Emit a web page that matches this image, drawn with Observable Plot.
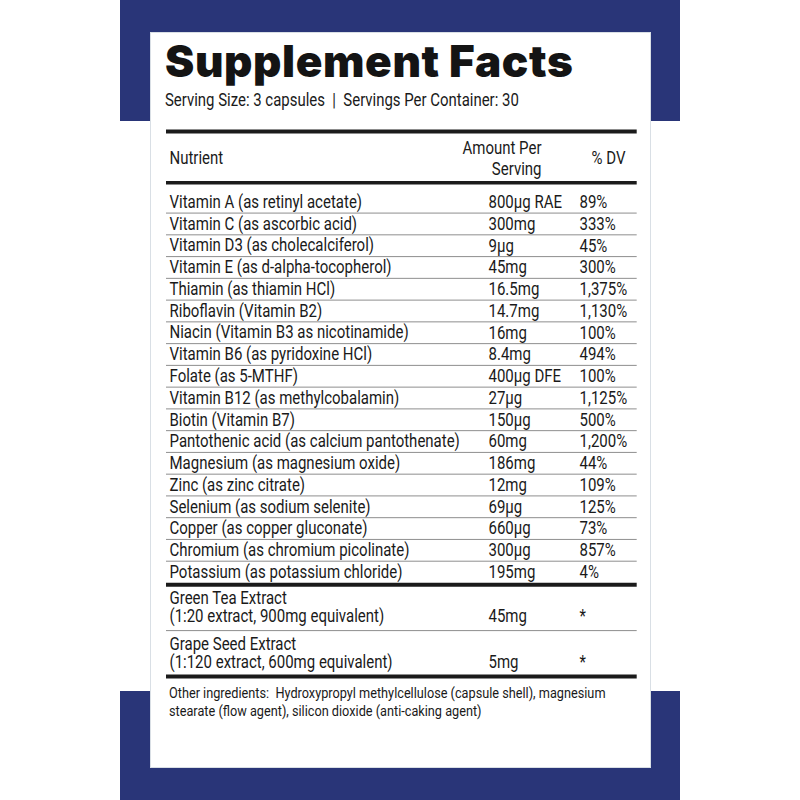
<!DOCTYPE html>
<html>
<head>
<meta charset="utf-8">
<script src="https://cdn.jsdelivr.net/npm/d3@7"></script>
<script src="https://cdn.jsdelivr.net/npm/@observablehq/plot@0.6"></script>
<style>
  html, body { margin: 0; padding: 0; background: #fff; }
  #page { position: relative; width: 800px; height: 800px; overflow: hidden; background: #fff; }
  .band { position: absolute; background: #293578; }
  #panel { position: absolute; left: 150px; top: 32px; width: 499px; height: 734px; background: #fff; border: 1px solid #d9dfe5; }
  #title { position: absolute; left: 165px; top: 38.7px; font-family: Inter, "Noto Sans", sans-serif; font-weight: 900; font-size: 44px; line-height: 44px; color: #141414; white-space: nowrap; letter-spacing: 0.6px; }
  .cond { position: absolute; font-family: Roboto, "Noto Sans", sans-serif; color: #1a1a1a; white-space: nowrap; transform-origin: 0 0; }
  #sub { left: 165px; top: 91.3px; font-size: 18px; line-height: 18px; transform: scaleX(0.83); }
  #other { left: 169px; top: 685.3px; font-size: 15.5px; line-height: 17.4px; transform: scaleX(0.82); }
  #chart { position: absolute; left: 150px; top: 120px; }
</style>
</head>
<body>
<div id="page">
  <div class="band" style="left:120px;top:0;width:560px;height:121px;"></div>
  <div class="band" style="left:120px;top:691px;width:560px;height:109px;"></div>
  <div id="panel"></div>
  <div id="title">Supplement Facts</div>
  <div id="sub" class="cond">Serving Size: 3 capsules&nbsp; |&nbsp; Servings Per Container: 30</div>
  <div id="chart"></div>
  <div id="other" class="cond">Other ingredients:&nbsp; Hydroxypropyl methylcellulose (capsule shell), magnesium<br>stearate (flow agent), silicon dioxide (anti-caking agent)</div>
</div>
<script>
// ---- data ----
const nutrients = [
  "Vitamin A (as retinyl acetate)",
  "Vitamin C (as ascorbic acid)",
  "Vitamin D3 (as cholecalciferol)",
  "Vitamin E (as d-alpha-tocopherol)",
  "Thiamin (as thiamin HCl)",
  "Riboflavin (Vitamin B2)",
  "Niacin (Vitamin B3 as nicotinamide)",
  "Vitamin B6 (as pyridoxine HCl)",
  "Folate (as 5-MTHF)",
  "Vitamin B12 (as methylcobalamin)",
  "Biotin (Vitamin B7)",
  "Pantothenic acid (as calcium pantothenate)",
  "Magnesium (as magnesium oxide)",
  "Zinc (as zinc citrate)",
  "Selenium (as sodium selenite)",
  "Copper (as copper gluconate)",
  "Chromium (as chromium picolinate)",
  "Potassium (as potassium chloride)"
];
const amounts = ["800µg RAE","300mg","9µg","45mg","16.5mg","14.7mg","16mg","8.4mg","400µg DFE","27µg","150µg","60mg","186mg","12mg","69µg","660µg","300µg","195mg"];
const dailyValues = ["89%","333%","45%","300%","1,375%","1,130%","100%","494%","100%","1,125%","500%","1,200%","44%","109%","125%","73%","857%","4%"];

const extracts = ["Green Tea Extract\n(1:20 extract, 900mg equivalent)", "Grape Seed Extract\n(1:120 extract, 600mg equivalent)"];
const extractAmounts = ["45mg", "5mg"];
const extractDailyValues = ["*", "*"];

const headers = ["Nutrient", "Amount Per\nServing", "% DV"];

// ---- layout (table units: x in px along table, y in row units) ----
const TABLE_W = 470.7;
const COL = { name: 3, amount: 322, dv: 413, amountHeadEnd: 375, dvHead: 425 };
const EXTRACT_H = 2.11, GAP = 0.08, HEAD_Y = -1.53, RULE_TOP = -2.75, RULE_HEAD = -0.40;
const FS = 18.3, SQUEEZE = 0.82;

const nV = nutrients.length;
const rows = nutrients.map((name, i) => ({ name, amount: amounts[i], dv: dailyValues[i], y: i + 0.5, yv: i + 0.5 }));
const extractTop = nV + GAP;
extracts.forEach((name, k) => {
  const top = extractTop + k * EXTRACT_H;
  rows.push({ name, amount: extractAmounts[k], dv: extractDailyValues[k], y: top + 1.04, yv: top + 1.46 });
});
const thinRules = d3.range(1, nV).concat(d3.range(1, extracts.length).map(k => extractTop + k * EXTRACT_H));
const thickRules = [RULE_TOP, extractTop, extractTop + extracts.length * EXTRACT_H];
const headRows = [
  { text: headers[0], x: COL.name, anchor: "start" },
  { text: headers[1], x: COL.amountHeadEnd, anchor: "end" },
  { text: headers[2], x: COL.dvHead, anchor: "start" }
];

const ink = "#1a1a1a";
const chart = Plot.plot({
  width: 500,
  height: 570,
  margin: 0,
  x: { type: "linear", domain: [0, TABLE_W], range: [16, 16 + TABLE_W], axis: null },
  y: { type: "linear", domain: [RULE_TOP, extractTop + extracts.length * EXTRACT_H], range: [11, 556], axis: null },
  style: { fontFamily: "Roboto, 'Noto Sans', sans-serif", background: "transparent", overflow: "visible" },
  marks: [
    Plot.ruleY(thinRules, { x1: 0, x2: TABLE_W, stroke: "#8e8e8e", strokeWidth: 1 }),
    Plot.ruleY(thickRules, { x1: 0, x2: TABLE_W, stroke: "#1b1b1b", strokeWidth: 4 }),
    Plot.ruleY([RULE_HEAD], { x1: 0, x2: TABLE_W, stroke: "#1b1b1b", strokeWidth: 3.5 }),
    Plot.text(headRows.filter(d => d.anchor === "start"), { x: "x", y: () => HEAD_Y, text: "text", textAnchor: "start", lineAnchor: "middle", fontSize: FS, fill: ink }),
    Plot.text(headRows.filter(d => d.anchor === "end"), { x: "x", y: () => HEAD_Y, text: "text", textAnchor: "end", lineAnchor: "middle", fontSize: FS, lineHeight: 1.15, fill: ink }),
    Plot.text(rows, { x: () => COL.name, y: "y", text: "name", textAnchor: "start", lineAnchor: "middle", fontSize: FS, lineHeight: 0.98, fill: ink }),
    Plot.text(rows, { x: () => COL.amount, y: "yv", text: "amount", textAnchor: "start", lineAnchor: "middle", fontSize: FS, fill: ink }),
    Plot.text(rows, { x: () => COL.dv, y: "yv", text: "dv", textAnchor: "start", lineAnchor: "middle", fontSize: FS, fill: ink })
  ]
});

// condensed look: narrow each label horizontally around its anchor
d3.select(chart).selectAll("text").each(function () {
  const t = this.getAttribute("transform") || "";
  this.setAttribute("transform", t + ` scale(${SQUEEZE},1)`);
});
document.getElementById("chart").appendChild(chart);
</script>
</body>
</html>
